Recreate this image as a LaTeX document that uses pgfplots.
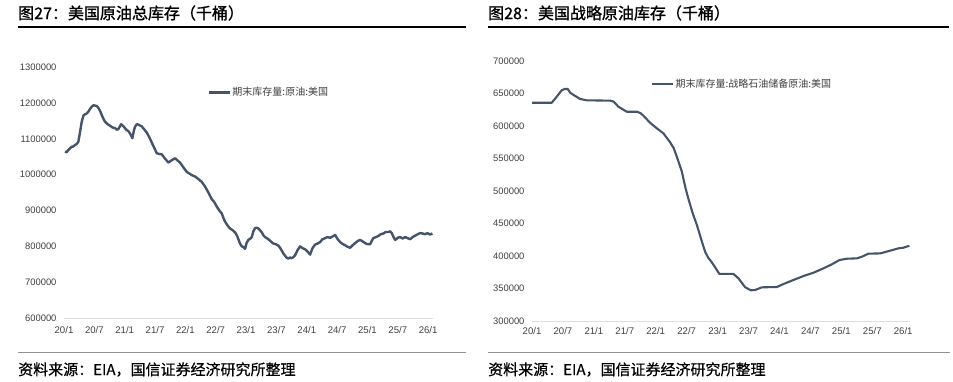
\documentclass[border=0pt]{standalone}
\usepackage{pgfplots}
\pgfplotsset{compat=1.18}
\usepackage{fontspec}
\setmainfont{Liberation Sans}
\newfontfamily\cjk{Noto Sans CJK SC}
\newfontfamily\cjkb[FakeBold=1.2]{Noto Sans CJK SC}
\newfontfamily\cjks[FakeBold=0.5]{Noto Sans CJK SC}
\definecolor{lc}{HTML}{44546A}
\definecolor{tk}{HTML}{404040}

\pgfplotstableread{
x y
2020.016 1064400
2020.045 1063000
2020.071 1069000
2020.100 1074000
2020.127 1078000
2020.155 1079000
2020.181 1083000
2020.210 1086000
2020.236 1092000
2020.265 1120000
2020.292 1148000
2020.320 1165000
2020.346 1169000
2020.375 1171000
2020.401 1176000
2020.430 1184000
2020.457 1190000
2020.485 1194000
2020.511 1193000
2020.540 1192000
2020.565 1187000
2020.595 1178000
2020.621 1167000
2020.650 1156000
2020.676 1148000
2020.720 1141000
2020.758 1137000
2020.800 1132000
2020.841 1130000
2020.870 1126000
2020.895 1127000
2020.940 1141000
2020.975 1136000
2021.005 1130000
2021.030 1125000
2021.060 1122000
2021.095 1113000
2021.126 1102000
2021.150 1122000
2021.170 1134000
2021.200 1141000
2021.225 1140000
2021.281 1135000
2021.320 1127000
2021.363 1118000
2021.405 1105000
2021.446 1090000
2021.490 1074000
2021.528 1060000
2021.570 1058000
2021.610 1057000
2021.660 1046000
2021.719 1034000
2021.770 1040000
2021.830 1046000
2021.870 1040000
2021.912 1034000
2021.970 1020000
2022.022 1008000
2022.060 1004000
2022.105 999000
2022.160 995000
2022.214 988000
2022.270 980000
2022.324 967000
2022.380 950000
2022.434 932000
2022.475 924000
2022.517 911000
2022.560 900000
2022.599 892000
2022.630 878000
2022.654 869000
2022.700 857000
2022.736 850000
2022.780 845000
2022.819 839000
2022.850 830000
2022.873 820000
2022.900 808000
2022.929 800000
2022.960 798000
2022.983 793000
2023.010 810000
2023.038 818000
2023.065 821000
2023.094 826000
2023.120 842000
2023.148 851000
2023.175 852000
2023.203 850000
2023.230 845000
2023.259 839000
2023.290 830000
2023.313 826000
2023.350 822000
2023.395 816000
2023.420 812000
2023.450 808000
2023.490 806000
2023.532 802000
2023.560 796000
2023.588 788000
2023.615 780000
2023.643 774000
2023.670 768000
2023.697 766000
2023.725 769000
2023.753 767000
2023.780 770000
2023.807 775000
2023.850 790000
2023.890 800000
2023.930 795000
2023.972 792000
2024.010 786000
2024.055 777000
2024.095 795000
2024.137 805000
2024.180 808000
2024.220 812000
2024.260 820000
2024.302 823000
2024.340 826000
2024.384 824000
2024.430 828000
2024.467 832000
2024.510 820000
2024.549 812000
2024.590 807000
2024.632 803000
2024.670 799000
2024.714 796000
2024.755 803000
2024.796 809000
2024.840 815000
2024.879 818000
2024.920 814000
2024.961 809000
2025.005 806000
2025.044 806000
2025.070 815000
2025.098 823000
2025.140 826000
2025.181 829000
2025.220 834000
2025.263 836000
2025.300 840000
2025.345 840000
2025.375 842000
2025.401 837000
2025.430 826000
2025.456 818000
2025.500 824000
2025.538 826000
2025.580 822000
2025.621 826000
2025.660 823000
2025.703 820000
2025.745 826000
2025.786 830000
2025.830 834000
2025.868 837000
2025.910 836000
2025.950 834000
2025.990 837000
2026.033 833000
2026.070 836000
}\tblA

\pgfplotstableread{
x y
2020.000 635800
2020.319 635800
2020.399 645000
2020.480 655000
2020.530 657000
2020.577 657000
2020.620 651000
2020.668 648000
2020.776 641600
2020.885 639500
2021.262 639000
2021.320 637500
2021.396 629700
2021.532 622000
2021.693 622000
2021.750 620000
2021.800 616000
2021.908 605000
2022.017 596500
2022.124 588700
2022.232 575000
2022.290 566000
2022.340 553000
2022.421 530300
2022.480 505000
2022.528 488000
2022.600 465000
2022.664 448000
2022.745 422600
2022.798 406600
2022.850 397000
2022.879 393800
2022.932 386700
2023.029 372400
2023.256 372400
2023.336 365700
2023.445 352000
2023.537 347200
2023.607 347700
2023.715 351800
2023.958 352300
2024.064 356900
2024.226 363100
2024.388 369200
2024.550 374300
2024.711 381000
2024.847 387200
2024.970 393800
2025.090 395800
2025.252 396400
2025.332 398900
2025.439 403600
2025.628 404000
2025.790 408200
2025.924 411800
2026.005 412800
2026.100 415800
}\tblB

\pgfplotsset{
  mystyle/.style={
    scale only axis,
    anchor=south west,
    axis x line*=bottom,
    axis y line*=left,
    x axis line style={-, draw=gray!25, line width=0.9pt},
    y axis line style={draw=none},
    major tick length=0pt,
    xtick={2020,2020.5,2021,2021.5,2022,2022.5,2023,2023.5,2024,2024.5,2025,2025.5,2026},
    xticklabels={20/1,20/7,21/1,21/7,22/1,22/7,23/1,23/7,24/1,24/7,25/1,25/7,26/1},
    scaled y ticks=false,
    yticklabel style={/pgf/number format/fixed,/pgf/number format/1000 sep={},
      font=\fontsize{9.4}{10}\selectfont, text=tk, xshift=-4pt},
    xticklabel style={font=\fontsize{9.6}{10}\selectfont, text=tk},
    /pgf/number format/assume math mode=true,
    legend style={draw=none, fill=none, anchor=west, inner sep=0pt,
      font=\cjk\fontsize{10}{11}\selectfont, text=tk,
      nodes={inner sep=1.5pt}},
    legend image code/.code={\draw[#1, line width=2.8pt] (0pt,0pt) -- (21pt,0pt);},
  }
}

\begin{document}
\begin{tikzpicture}
\path[use as bounding box] (0pt,0pt) rectangle (953pt,381pt);

% ---------- left panel ----------
\node[anchor=west, inner sep=0pt, font=\cjkb\fontsize{16}{18}\selectfont, text=black] at (18pt,368pt) {图27：美国原油总库存（千桶）};
\draw[black, line width=1.2pt] (18pt,354pt) -- (466pt,354pt);
\draw[gray!85, line width=1pt] (18pt,28.5pt) -- (466pt,28.5pt);
\node[anchor=west, inner sep=0pt, font=\cjks\fontsize{15}{17}\selectfont] at (18pt,11.5pt) {资料来源：EIA，国信证券经济研究所整理};

\begin{axis}[mystyle,
  at={(64pt,63pt)}, width=369pt, height=250.7pt,
  xmin=2020, xmax=2026.08, ymin=600000, ymax=1300000,
  ytick={600000,700000,800000,900000,1000000,1100000,1200000,1300000},
  xticklabel style={yshift=-5pt},
  legend style={at={(rel axis cs:0.3875,0.901)}},
]
\addplot[lc, line width=2.4pt, line join=round] table[x=x,y=y] {\tblA};
\addlegendentry{期末库存量:原油:美国}
\end{axis}

% ---------- right panel ----------
\node[anchor=west, inner sep=0pt, font=\cjkb\fontsize{16}{18}\selectfont, text=black] at (488pt,368pt) {图28：美国战略原油库存（千桶）};
\draw[black, line width=1.2pt] (488pt,354pt) -- (949pt,354pt);
\draw[gray!85, line width=1pt] (488pt,29pt) -- (950pt,29pt);
\node[anchor=west, inner sep=0pt, font=\cjks\fontsize{15}{17}\selectfont] at (488pt,11.5pt) {资料来源：EIA，国信证券经济研究所整理};

\begin{axis}[mystyle,
  at={(532pt,60pt)}, width=378pt, height=260pt,
  xmin=2020, xmax=2026.11, ymin=300000, ymax=700000,
  ytick={300000,350000,400000,450000,500000,550000,600000,650000,700000},
  xticklabel style={yshift=-3pt},
  legend style={at={(rel axis cs:0.3122,0.9115)}},
]
\addplot[lc, line width=2.1pt, line join=round] table[x=x,y=y] {\tblB};
\addlegendentry{期末库存量:战略石油储备原油:美国}
\end{axis}
\end{tikzpicture}
\end{document}
